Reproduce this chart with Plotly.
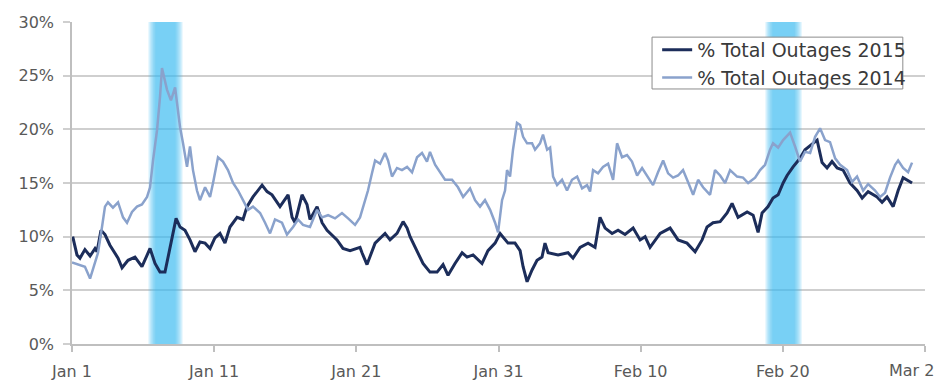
import pandas as pd
import plotly.graph_objects as go

# ---- data (day offset from Jan 1, percent) ----
days_2015 = [0.05, 0.35, 0.56, 0.91, 1.27, 1.62, 1.76, 2.04, 2.32, 2.67, 3.24, 3.52, 3.94, 4.43, 4.92,
             5.49, 5.84, 6.19, 6.54, 6.75, 7.03, 7.32, 7.6, 7.95, 8.3, 8.65, 9.0, 9.36, 9.71, 10.06,
             10.41, 10.76, 11.11, 11.61, 12.03, 12.31, 12.73, 13.37, 13.72, 14.07, 14.63, 15.2, 15.48,
             15.69, 16.18, 16.53, 16.74, 17.24, 17.59, 17.94, 18.64, 19.06, 19.56, 20.26, 20.4, 20.75,
             21.32, 22.02, 22.37, 22.86, 23.29, 23.57, 23.78, 24.27, 24.69, 25.18, 25.68, 26.1, 26.45,
             26.94, 27.44, 27.79, 28.21, 28.84, 29.26, 29.76, 30.11, 30.67, 31.16, 31.52, 31.73, 32.01,
             32.36, 32.71, 33.06, 33.27, 33.49, 34.19, 34.89, 35.24, 35.74, 36.3, 36.79, 37.14, 37.5,
             37.99, 38.41, 38.9, 39.47, 39.96, 40.31, 40.66, 41.37, 42.07, 42.63, 43.26, 43.83, 44.32,
             44.67, 45.09, 45.59, 46.08, 46.43, 46.85, 47.49, 47.91, 48.26, 48.54, 48.96, 49.31, 49.67,
             50.02, 50.3, 50.72, 51.21, 51.56, 51.92, 52.41, 52.76, 53.11, 53.46, 53.82, 54.24, 54.73,
             55.22, 55.58, 56.0, 56.63, 56.98, 57.33, 57.76, 58.11, 58.46, 58.74, 59.09]
vals_2015 = [10.0, 8.3, 8.0, 8.8, 8.2, 8.9, 8.6, 10.6, 10.2, 9.2, 8.0, 7.1, 7.8, 8.1, 7.2,
             8.9, 7.5, 6.7, 6.7, 8.1, 9.7, 11.7, 10.9, 10.6, 9.7, 8.6, 9.5, 9.4, 8.9, 9.9,
             10.3, 9.4, 10.9, 11.8, 11.6, 12.8, 13.7, 14.8, 14.2, 13.9, 12.8, 13.9, 11.8,
             11.3, 13.9, 13.0, 11.6, 12.8, 11.3, 10.6, 9.7, 8.9, 8.7, 9.0, 8.5, 7.4,
             9.4, 10.3, 9.7, 10.3, 11.4, 10.8, 10.0, 8.7, 7.5, 6.7, 6.7, 7.4, 6.4,
             7.5, 8.5, 8.1, 8.3, 7.5, 8.7, 9.4, 10.3, 9.4, 9.4, 8.7, 7.2, 5.8,
             6.9, 7.8, 8.1, 9.4, 8.5, 8.3, 8.5, 8.0, 9.0, 9.4, 9.0, 11.8, 10.8,
             10.3, 10.6, 10.2, 10.8, 9.7, 10.0, 9.0, 10.3, 10.8, 9.7, 9.4, 8.6, 9.7,
             10.9, 11.3, 11.4, 12.2, 13.1, 11.8, 12.3, 12.0, 10.4, 12.2, 12.8, 13.6, 13.9,
             15.0, 15.7, 16.5, 17.3, 18.1, 18.5, 19.0, 16.9, 16.4, 17.0, 16.4, 16.2, 15.0,
             14.3, 13.6, 14.2, 13.7, 13.2, 13.7, 12.8, 14.3, 15.5, 15.3, 15.0]

days_2014 = [0.0, 0.42, 0.91, 1.27, 1.62, 1.83, 2.11, 2.32, 2.53, 2.88, 3.24, 3.59, 3.87, 4.22, 4.57,
             4.92, 5.28, 5.49, 5.7, 5.98, 6.19, 6.33, 6.68, 6.96, 7.25, 7.6, 7.81, 8.09, 8.3, 8.51,
             8.79, 9.0, 9.36, 9.71, 9.92, 10.27, 10.62, 10.97, 11.33, 11.68, 12.03, 12.38, 12.73,
             13.23, 13.58, 13.93, 14.28, 14.77, 15.12, 15.55, 15.9, 16.25, 16.74, 17.24, 17.59,
             18.01, 18.5, 18.99, 19.42, 19.91, 20.26, 20.61, 20.82, 21.1, 21.32, 21.67, 22.02,
             22.23, 22.51, 22.86, 23.21, 23.57, 23.92, 24.27, 24.62, 24.97, 25.18, 25.54, 25.89,
             26.24, 26.73, 27.15, 27.51, 28.0, 28.35, 28.7, 29.05, 29.41, 29.76, 29.97, 30.25,
             30.46, 30.6, 30.81, 31.02, 31.3, 31.52, 31.73, 32.01, 32.36, 32.57, 32.92, 33.13,
             33.42, 33.63, 33.84, 34.12, 34.47, 34.82, 35.17, 35.53, 35.88, 36.23, 36.44, 36.65,
             37.0, 37.35, 37.71, 38.06, 38.34, 38.69, 39.04, 39.39, 39.75, 40.1, 40.45, 40.87,
             41.22, 41.58, 41.93, 42.28, 42.63, 42.98, 43.33, 43.69, 44.04, 44.39, 44.88, 45.23,
             45.59, 45.94, 46.29, 46.78, 47.2, 47.56, 48.05, 48.4, 48.75, 49.1, 49.31, 49.67,
             50.02, 50.37, 50.51, 50.86, 51.21, 51.56, 51.92, 52.27, 52.62, 52.97, 53.32, 53.68,
             54.03, 54.52, 54.87, 55.22, 55.65, 56.0, 56.49, 56.84, 57.19, 57.54, 57.9, 58.11,
             58.46, 58.81, 59.09]
vals_2014 = [7.6, 7.4, 7.2, 6.1, 7.5, 8.5, 10.9, 12.8, 13.2, 12.7, 13.2, 11.8, 11.3, 12.3, 12.8,
             13.0, 13.7, 14.6, 17.1, 19.9, 23.0, 25.7, 23.7, 22.7, 23.9, 20.2, 18.7, 16.5, 18.4, 16.2,
             14.3, 13.4, 14.6, 13.7, 15.0, 17.4, 17.0, 16.2, 15.0, 14.3, 13.4, 12.5, 12.8,
             12.2, 11.3, 10.3, 11.6, 11.3, 10.2, 10.9, 11.6, 11.1, 10.9, 12.5, 11.8,
             12.0, 11.7, 12.2, 11.7, 11.1, 11.8, 13.4, 14.3, 15.9, 17.1, 16.8, 17.8,
             17.1, 15.6, 16.4, 16.2, 16.5, 16.0, 17.4, 17.8, 17.0, 17.9, 16.7, 16.0,
             15.3, 15.3, 14.6, 13.7, 14.5, 13.4, 12.8, 13.4, 12.5, 11.3, 10.4, 13.4,
             14.3, 16.2, 15.6, 18.1, 20.6, 20.4, 19.3, 18.7, 18.7, 18.1, 18.7, 19.5,
             18.1, 18.3, 15.6, 14.8, 15.3, 14.3, 15.3, 15.6, 14.5, 14.8, 14.2, 16.2,
             15.9, 16.5, 16.8, 15.3, 18.7, 17.4, 17.6, 17.0, 15.7, 16.4, 15.7, 14.8,
             16.0, 17.1, 15.9, 15.5, 15.7, 16.2, 15.1, 13.9, 15.3, 14.6, 13.9, 16.2,
             15.7, 15.0, 16.2, 15.6, 15.5, 15.0, 15.5, 16.2, 16.7, 18.1, 18.7, 18.3,
             19.0, 19.5, 19.7, 18.4, 17.0, 17.9, 17.8, 19.3, 20.1, 19.0, 18.8, 17.3,
             16.7, 16.2, 15.1, 15.6, 14.3, 14.9, 14.3, 13.7, 14.1, 15.5, 16.7, 17.1,
             16.4, 16.0, 16.9]

tick_days = [0, 10, 20, 30, 40, 50, 60]
tick_labels = ["Jan 1", "Jan 11", "Jan 21", "Jan 31", "Feb 10", "Feb 20", "Mar 2"]
y_ticks = [0, 5, 10, 15, 20, 25, 30]
y_tick_labels = [f"{v}%" for v in y_ticks]

# highlighted periods (day offsets)
band_starts = [5.35, 48.75]
band_ends = [7.8, 51.35]

base = pd.Timestamp("2015-01-01")
to_dt = lambda d: [base + pd.Timedelta(days=float(x)) for x in d]

FONT = "DejaVu Sans"
TICK_COLOR = "#595959"
fig = go.Figure()
fig.add_trace(go.Scatter(x=to_dt(days_2015), y=vals_2015, mode="lines",
                         name="% Total Outages 2015",
                         line=dict(color="#1c2d5a", width=3)))
fig.add_trace(go.Scatter(x=to_dt(days_2014), y=vals_2014, mode="lines",
                         name="% Total Outages 2014",
                         line=dict(color="#8aa2cc", width=2.5)))

# soft-edged bands
layers = 12
for s, e in zip(band_starts, band_ends):
    step = 0.05
    for i in range(layers):
        x0 = base + pd.Timedelta(days=s + i * step)
        x1 = base + pd.Timedelta(days=e - i * step)
        fig.add_shape(type="rect", xref="x", yref="y", x0=x0, x1=x1, y0=0, y1=30,
                      fillcolor="#45bff0", opacity=0.095, line_width=0, layer="between")

# legend box (drawn as a shape so padding can match)
fig.add_shape(type="rect", xref="paper", yref="paper", x0=0.680, x1=0.974, y0=0.792, y1=0.953,
              fillcolor="white", line=dict(color="#8c8c8c", width=1), layer="above")

# last tick label is shifted left so it stays inside the picture (as in the reference)
shown_ticktext = tick_labels[:-1] + [""]
fig.add_annotation(x=to_dt([tick_days[-1]])[0], xref="x", y=0, yref="paper",
                   text=tick_labels[-1], showarrow=False,
                   xanchor="right", yanchor="top", xshift=11, yshift=-15,
                   font=dict(family=FONT, size=16, color=TICK_COLOR))

fig.update_layout(
    width=940, height=381,
    margin=dict(l=72, r=15, t=22, b=37, autoexpand=False),
    paper_bgcolor="white", plot_bgcolor="white",
    font=dict(family=FONT, size=16, color=TICK_COLOR),
    showlegend=True,
    legend=dict(x=0.686, y=0.972, xanchor="left", yanchor="top",
                bgcolor="rgba(0,0,0,0)", borderwidth=0,
                font=dict(family=FONT, size=19, color="#3a3a3a"),
                itemwidth=30, tracegroupgap=0),
)
fig.update_xaxes(
    type="date", automargin=False,
    range=[base, base + pd.Timedelta(days=60)],
    tickvals=to_dt(tick_days), ticktext=shown_ticktext,
    showgrid=False, zeroline=False,
    showline=True, linecolor="#bfbfbf", linewidth=1.5,
    ticks="outside", ticklen=6, tickcolor="#bfbfbf", tickwidth=1.5,
    ticklabelstandoff=6, ticklabeloverflow="allow",
)
fig.update_yaxes(
    range=[0, 30], tickvals=y_ticks, ticktext=y_tick_labels, automargin=False,
    showgrid=True, gridcolor="#cfcfcf", gridwidth=1.5,
    zeroline=False,
    showline=True, linecolor="#bfbfbf", linewidth=1.5,
    ticks="outside", ticklen=7, tickcolor="#cfcfcf", tickwidth=1.5,
    ticklabelstandoff=6,
)

fig.write_html("out.html")
